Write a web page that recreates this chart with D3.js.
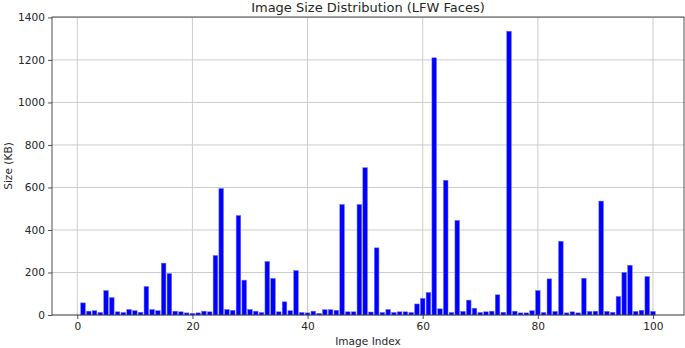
<!DOCTYPE html>
<html lang="en">
<head>
    <meta charset="UTF-8">
    <title>Image Size Distribution (LFW Faces)</title>
    <style>
        body, html {
            margin: 0;
            overflow: hidden;
            background: #fff;
        }
        text {
            font-family: "DejaVu Sans", sans-serif;
            fill: #262626;
        }
    </style>
</head>
<body>

<script src="https://d3js.org/d3.v7.min.js"></script>

<script>
    // Image index 1..100 and file sizes in KB
    const imageIndex = d3.range(1, 101);
    const sizesKB = [
        57, 18, 20, 12, 115, 82, 15, 12, 26, 20,
        13, 134, 26, 20, 244, 195, 18, 15, 10, 8,
        10, 18, 15, 280, 595, 26, 22, 468, 164, 26,
        18, 12, 252, 172, 15, 62, 20, 209, 12, 10,
        18, 8, 25, 25, 22, 520, 15, 15, 520, 693,
        14, 316, 12, 26, 12, 15, 15, 12, 52, 78,
        106, 1210, 29, 634, 12, 445, 17, 70, 32, 12,
        15, 18, 95, 13, 1335, 18, 10, 10, 20, 115,
        12, 170, 17, 347, 10, 15, 10, 173, 17, 18,
        536, 17, 13, 87, 200, 234, 17, 22, 181, 17
    ];
    const xTicks = [0, 20, 40, 60, 80, 100];
    const yTicks = [0, 200, 400, 600, 800, 1000, 1200, 1400];

    const width = 685, height = 348;
    const margin = {top: 17, right: 1, bottom: 33, left: 52};

    const svg = d3.create("svg")
        .attr("width", width)
        .attr("height", height);

    // bars of width 0.8 with 5% padding on each side like matplotlib
    const x = d3.scaleLinear()
        .domain([-4.39, 105.39])
        .range([margin.left, width - margin.right]);

    const y = d3.scaleLinear()
        .domain([0, 1402])
        .range([height - margin.bottom, margin.top]);

    const barW = 0.8;

    // grid lines
    svg.append("g")
        .selectAll("line.vgrid")
        .data(xTicks)
        .enter().append("line")
        .attr("x1", d => x(d)).attr("x2", d => x(d))
        .attr("y1", margin.top).attr("y2", height - margin.bottom)
        .attr("stroke", "#cccccc")
        .attr("stroke-width", 1);

    svg.append("g")
        .selectAll("line.hgrid")
        .data(yTicks)
        .enter().append("line")
        .attr("x1", margin.left).attr("x2", width - margin.right)
        .attr("y1", d => y(d)).attr("y2", d => y(d))
        .attr("stroke", "#cccccc")
        .attr("stroke-width", 1);

    // bars
    svg.append("g")
        .selectAll("rect")
        .data(imageIndex)
        .enter().append("rect")
        .attr("x", (d, i) => x(d - barW / 2))
        .attr("width", x(barW) - x(0))
        .attr("y", (d, i) => y(sizesKB[i]))
        .attr("height", (d, i) => y(0) - y(sizesKB[i]))
        .attr("fill", "#0000ff")
        .attr("stroke", "#6f6fff")
        .attr("stroke-width", 0.5);

    // axes
    const xAxis = svg.append("g")
        .attr("transform", `translate(0,${height - margin.bottom})`)
        .call(d3.axisBottom(x).tickValues(xTicks).tickSize(4).tickPadding(3).tickFormat(d3.format("d")));

    const yAxis = svg.append("g")
        .attr("transform", `translate(${margin.left},0)`)
        .call(d3.axisLeft(y).tickValues(yTicks).tickSize(4).tickPadding(3).tickFormat(d3.format("d")));

    [xAxis, yAxis].forEach(a => {
        a.select(".domain").remove();
        a.selectAll(".tick line").attr("stroke", "#262626").attr("stroke-width", 0.8);
        a.selectAll(".tick text").attr("font-size", 10.6).attr("font-family", "DejaVu Sans").style("fill", "#262626");
    });

    // frame
    svg.append("rect")
        .attr("x", margin.left)
        .attr("y", margin.top)
        .attr("width", width - margin.right - margin.left)
        .attr("height", height - margin.bottom - margin.top)
        .attr("fill", "none")
        .attr("stroke", "#262626")
        .attr("stroke-width", 0.8);

    // title and labels
    svg.append("text")
        .attr("x", (margin.left + width - margin.right) / 2)
        .attr("y", 12)
        .attr("text-anchor", "middle")
        .attr("font-size", 13)
        .text("Image Size Distribution (LFW Faces)");

    svg.append("text")
        .attr("x", (margin.left + width - margin.right) / 2)
        .attr("y", 345)
        .attr("text-anchor", "middle")
        .attr("font-size", 10.6)
        .text("Image Index");

    svg.append("text")
        .attr("transform", `translate(12,${(margin.top + height - margin.bottom) / 2}) rotate(-90)`)
        .attr("text-anchor", "middle")
        .attr("font-size", 10.6)
        .text("Size (KB)");

    document.body.appendChild(svg.node());
</script>

</body>
</html>
